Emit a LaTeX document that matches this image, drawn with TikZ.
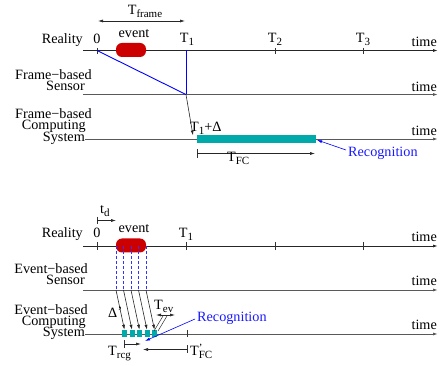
\documentclass[tikz,border=0pt]{standalone}
\usepackage{fontspec}
\setmainfont{Liberation Serif}
\usetikzlibrary{arrows.meta}
\definecolor{evred}{HTML}{CC0000}
\definecolor{bar}{HTML}{00AAAA}
\definecolor{recblue}{HTML}{1A1AFF}
\newcommand{\tsub}[1]{\raisebox{-3pt}{\fontsize{11}{12}\selectfont #1}}
\begin{document}
\begin{tikzpicture}[x=1pt,y=-1pt,
  lbl/.style={font=\fontsize{14.2}{14}\selectfont, inner sep=0pt},
  axisline/.style={draw=black!65, line width=0.9pt, -{Latex[length=5pt,width=3pt]}},
  realline/.style={draw=black!85, line width=0.9pt, -{Latex[length=5pt,width=3pt]}},
  tickmark/.style={draw=black!80, line width=0.7pt},
  arr/.style={draw=black!85, line width=0.6pt, -{Latex[length=5pt,width=3pt]}},
  darr/.style={draw=black!85, line width=0.6pt, {Latex[length=5pt,width=3pt]}-{Latex[length=5pt,width=3pt]}},
  bluearr/.style={draw=blue, line width=0.6pt, -{Latex[length=5pt,width=3pt]}},
  blueline/.style={draw=blue, line width=0.9pt},
  evbox/.style={fill=evred, rounded corners=6pt, minimum width=30pt, minimum height=14pt, inner sep=0pt},
  barbox/.style={fill=bar, inner sep=0pt},
  dashv/.style={draw=blue!80, line width=0.6pt, dash pattern=on 3pt off 2pt}
]
\useasboundingbox (0,0) rectangle (440,366);

%% ---------------- Top: frame based ----------------
% T_frame
\coordinate (tfa) at (98,21); \coordinate (tfb) at (185,21);
\draw[darr] (tfa) -- (tfb);
\node[lbl, anchor=base] (tframe) at (145,14.5) {T\tsub{frame}};

% Reality line
\coordinate (r1s) at (83,50.5); \coordinate (r1e) at (438,50.5);
\draw[realline] (r1s) -- (r1e);
\node[lbl, anchor=base east] (real1) at (83,44) {Reality};
\node[lbl, anchor=base east] (time1) at (437,46.5) {time};
\node[lbl, anchor=base] (zero1) at (97,44) {0};
\coordinate (k0a) at (97,48); \coordinate (k0b) at (97,54);
\draw[tickmark] (k0a) -- (k0b);
\foreach \x/\n in {275/2,363/3}{
  \coordinate (kt\n a) at (\x,48); \coordinate (kt\n b) at (\x,54);
  \draw[tickmark] (kt\n a) -- (kt\n b);
}
\node[evbox] (ev1) at (131,50) {};
\node[lbl, anchor=base] (evl1) at (134,38) {event};
\node[lbl, anchor=base] (T1a) at (187,42.5) {T\tsub{1}};
\node[lbl, anchor=base] (T2a) at (275,42.5) {T\tsub{2}};
\node[lbl, anchor=base] (T3a) at (363,42.5) {T\tsub{3}};

% Frame-based sensor
\node[lbl, anchor=base east] (fs1) at (92,79.5) {Frame−based};
\node[lbl, anchor=base east] (fs2) at (85,91) {Sensor};
\coordinate (s1s) at (83,94.5); \coordinate (s1e) at (438,94.5);
\draw[axisline] (s1s) -- (s1e);
\node[lbl, anchor=base east] (time2) at (437,91.5) {time};

% blue sampling lines
\coordinate (b0) at (97,50.5); \coordinate (b1) at (186,50.5); \coordinate (b2) at (186,94.5);
\draw[blueline] (b0) -- (b2);
\draw[blueline] (b1) -- (b2);

% Frame-based computing system
\node[lbl, anchor=base east] (fc1) at (92,118.5) {Frame−based};
\node[lbl, anchor=base east] (fc2) at (86,130) {Computing};
\node[lbl, anchor=base east] (fc3) at (85,141.5) {System};
\coordinate (c1s) at (85,139); \coordinate (c1e) at (438,139);
\draw[axisline] (c1s) -- (c1e);
\node[lbl, anchor=base east] (time3) at (437,135.5) {time};

\coordinate (dl) at (193,135.5);
\draw[arr] (b2) -- (dl);
\node[lbl, anchor=base west] (t1d) at (190,131.5) {T\tsub{1}+Δ};
\node[barbox, minimum width=119pt, minimum height=8pt] (fcbar) at (256.5,139) {};

% T_FC
\coordinate (fca) at (197,149); \coordinate (fcb) at (197,158);
\draw[tickmark] (fca) -- (fcb);
\coordinate (fcs) at (197,153.5); \coordinate (fce) at (315,153.5);
\draw[arr] (fcs) -- (fce);
\node[lbl, anchor=base west] (tfc) at (227,162) {T\tsub{FC}};

\node[lbl, anchor=base west, text=recblue] (rec1) at (348,157) {Recognition};
\coordinate (rec1a) at (346,150); \coordinate (rec1b) at (317,140);
\draw[bluearr] (rec1a) -- (rec1b);

%% ---------------- Bottom: event based ----------------
\node[lbl, anchor=base west] (td) at (100,213.5) {t\tsub{d}};
\coordinate (tda) at (97,217); \coordinate (tdb) at (97,224);
\draw[tickmark] (tda) -- (tdb);
\coordinate (tds) at (97,220.5); \coordinate (tde) at (116,220.5);
\draw[arr] (tds) -- (tde);

\coordinate (r2s) at (83,246); \coordinate (r2e) at (438,246);
\draw[realline] (r2s) -- (r2e);
\node[lbl, anchor=base east] (real2) at (83,238) {Reality};
\node[lbl, anchor=base east] (time4) at (437,241.5) {time};
\node[lbl, anchor=base] (zero2) at (97,238) {0};
\foreach \x/\n in {97/0,186/1,275/2,363/3}{
  \coordinate (ku\n a) at (\x,242); \coordinate (ku\n b) at (\x,250);
  \draw[tickmark] (ku\n a) -- (ku\n b);
}
\node[evbox] (ev2) at (131,245.5) {};
\node[lbl, anchor=base] (evl2) at (134,233) {event};
\node[lbl, anchor=base] (T1b) at (186,238) {T\tsub{1}};

% Event-based sensor
\node[lbl, anchor=base east] (es1) at (88,273.5) {Event−based};
\node[lbl, anchor=base east] (es2) at (85,285) {Sensor};
\coordinate (s2s) at (83,290); \coordinate (s2e) at (438,290);
\draw[axisline] (s2s) -- (s2e);
\node[lbl, anchor=base east] (time5) at (437,286) {time};

% Event-based computing system
\node[lbl, anchor=base east] (ec1) at (88,314.5) {Event−based};
\node[lbl, anchor=base east] (ec2) at (86,325.5) {Computing};
\node[lbl, anchor=base east] (ec3) at (85,336.5) {System};
\coordinate (c2s) at (85,334); \coordinate (c2e) at (438,334);
\draw[axisline] (c2s) -- (c2e);
\node[lbl, anchor=base east] (time6) at (437,330) {time};
\coordinate (kfa) at (187,330); \coordinate (kfb) at (187,337);
\draw[tickmark] (kfa) -- (kfb);

% dashed samples, arrows and small bars
\foreach \i in {0,...,4}{
  \pgfmathsetmacro{\xd}{116+7.5*\i}
  \pgfmathsetmacro{\xb}{124.5+7.5*\i}
  \coordinate (dv\i a) at (\xd,246);
  \coordinate (dv\i b) at (\xd,291);
  \draw[dashv] (dv\i a) -- (dv\i b);
  \coordinate (sa\i) at (\xd,290);
  \node[barbox, minimum width=5pt, minimum height=7pt] (sb\i) at (\xb,333.5) {};
  \draw[arr] (sa\i) -- (sb\i.north);
}

\node[lbl, anchor=base west] (dprime) at (108,318) {Δ\kern0.3pt\raisebox{1.5pt}{’}};
\node[lbl, anchor=base west] (tev) at (154,309.5) {T\tsub{ev}};
\coordinate (teva) at (156,315); \coordinate (tevb) at (175,315);
\draw[darr] (teva) -- (tevb);
\coordinate (tl1a) at (163,316); \coordinate (tl1b) at (154,331);
\coordinate (tl2a) at (167,316); \coordinate (tl2b) at (158,331);
\draw[black!85, line width=0.5pt] (tl1a) -- (tl1b);
\draw[black!85, line width=0.5pt] (tl2a) -- (tl2b);

\node[lbl, anchor=base west, text=recblue] (rec2) at (197,322) {Recognition};
\coordinate (rec2a) at (195,319); \coordinate (rec2b) at (145,341);
\draw[bluearr] (rec2a) -- (rec2b);

% T_rcg
\coordinate (rca) at (124,340); \coordinate (rcb) at (124,348);
\draw[tickmark] (rca) -- (rcb);
\coordinate (rcs) at (124,344); \coordinate (rce) at (141,344);
\draw[arr] (rcs) -- (rce);
\node[lbl, anchor=base west] (trcg) at (108,355.5) {T\tsub{rcg}};

% T'_FC
\coordinate (pfa) at (187,345.5); \coordinate (pfb) at (187,353);
\draw[tickmark] (pfa) -- (pfb);
\coordinate (pfs) at (187,349.5); \coordinate (pfe) at (143,349.5);
\draw[arr] (pfs) -- (pfe);
\node[lbl, anchor=base west] (tpfc) at (190,355.5) {T\makebox[0pt][l]{\raisebox{4pt}{\fontsize{11}{12}\selectfont ’}}\tsub{FC}};
\end{tikzpicture}
\end{document}
